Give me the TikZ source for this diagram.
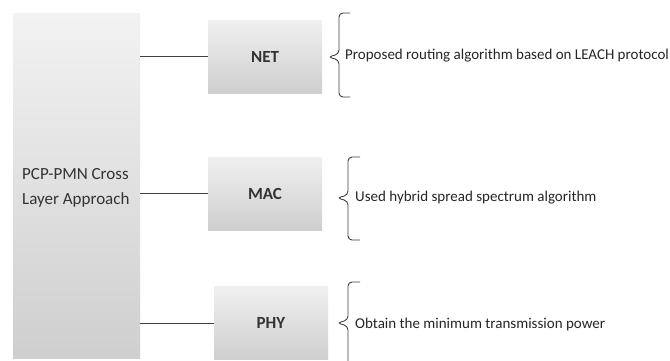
\documentclass[tikz,border=0pt]{standalone}
\usepackage{fontspec}
\setmainfont{Carlito}

\begin{document}
\begin{tikzpicture}[x=1pt, y=-1pt,
  layerbox/.style={draw=none, rectangle, top color=gray!12, bottom color=gray!38,
                   minimum width=114pt, minimum height=73pt, font=\fontsize{17}{20}\selectfont\bfseries,
                   text=black!80},
  link/.style={draw=black!75, line width=0.9pt},
  brc/.style={draw=black!75, line width=0.9pt, rounded corners=4pt},
  note/.style={anchor=west, font=\fontsize{15}{18}\selectfont, text=black!85, inner sep=0pt}
]
\useasboundingbox (0,0) rectangle (670,360);
\fill[white] (0,0) rectangle (670,360);
\begin{scope}
\clip (0,0) rectangle (670,360);
% main block
\node[rectangle, top color=gray!10, bottom color=gray!38, minimum width=127pt,
      minimum height=345pt] (pcp) at (76.5, 185.5) {};
\node[align=left, font=\fontsize{17}{25}\selectfont, text=black!80, anchor=west, inner sep=0pt]
      (pcptxt) at (22, 187.5) {PCP-PMN Cross\\Layer Approach};
% layers
\node[layerbox] (net) at (265, 56.5)  {NET};
\node[layerbox] (mac) at (265, 193.5) {MAC};
\node[layerbox] (phy) at (271, 323)   {PHY};
\draw[link] (pcp.east |- net) -- (net);
\draw[link] (pcp.east |- mac) -- (mac);
\draw[link] (pcp.east |- phy) -- (phy);
% brackets
\draw[brc] (350,13) -- (339,13) -- (339,54) -- (328,57) -- (339,60) -- (339,97) -- (350,97);
\draw[brc] (360,157) -- (348,157) -- (348,195) -- (337,198) -- (348,201) -- (348,240) -- (360,240);
\draw[brc] (360,282) -- (348,282) -- (348,320) -- (337,323) -- (348,326) -- (348,366) -- (360,366);
\node[note] (netn) at (345, 56)  {Proposed routing algorithm based on LEACH protocol};
\node[note] (macn) at (355, 198) {Used hybrid spread spectrum algorithm};
\node[note] (phyn) at (355, 324) {Obtain the minimum transmission power};
\end{scope}
\end{tikzpicture}
\end{document}
